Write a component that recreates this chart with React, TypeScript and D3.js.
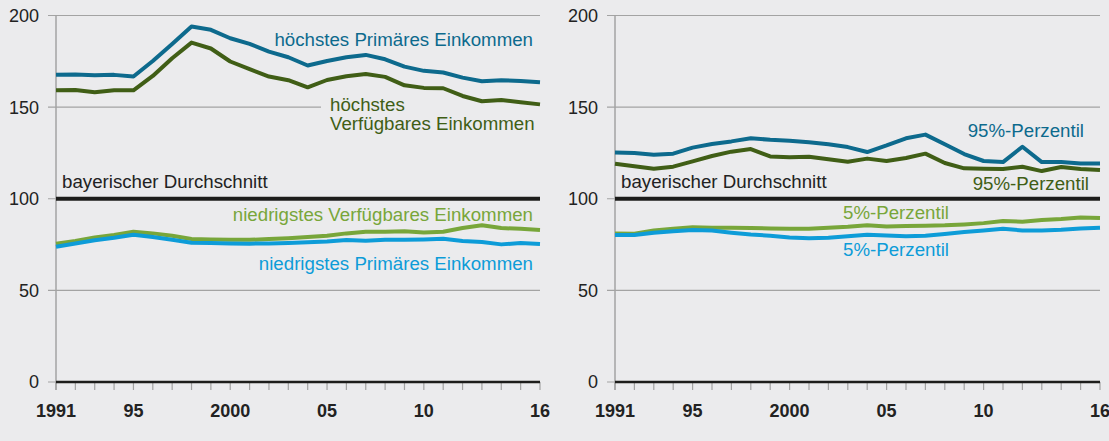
import React from 'react';
import * as d3 from 'd3';

// Jahre 1991 bis 2016
const years = d3.range(1991, 2017);
const yTicks = [0, 50, 100, 150, 200];
const xTickLabels = [
  { year: 1991, label: '1991' },
  { year: 1995, label: '95' },
  { year: 2000, label: '2000' },
  { year: 2005, label: '05' },
  { year: 2010, label: '10' },
  { year: 2016, label: '16' },
];

// linkes Diagramm: Kreise mit hoechstem / niedrigstem Einkommen
const hoechstPrimaer = [167.6, 167.8, 167.4, 167.6, 166.7, 175.2, 184.5, 194.0, 192.2, 187.6, 184.5, 180.3, 177.2, 172.7, 175.2, 177.2, 178.5, 176.1, 172.1, 169.8, 168.9, 166.1, 164.1, 164.7, 164.3, 163.6];
const hoechstVerfuegbar = [159.2, 159.4, 158.1, 159.2, 159.2, 167.0, 176.7, 185.2, 182.0, 174.9, 170.7, 166.7, 164.7, 160.8, 164.8, 166.8, 168.1, 166.5, 161.9, 160.5, 160.3, 156.1, 153.2, 153.9, 152.6, 151.5];
const niedrigVerfuegbar = [75.5, 76.9, 78.9, 80.2, 82.0, 81.1, 79.8, 78.0, 77.8, 77.6, 77.6, 78.0, 78.5, 79.1, 79.8, 81.1, 82.0, 82.0, 82.2, 81.6, 82.0, 84.0, 85.5, 84.0, 83.6, 82.9];
const niedrigPrimaer = [73.8, 75.6, 77.3, 78.7, 80.4, 79.1, 77.6, 76.0, 75.8, 75.6, 75.5, 75.6, 75.8, 76.2, 76.7, 77.5, 77.1, 77.6, 77.6, 77.8, 78.2, 76.9, 76.4, 75.1, 75.8, 75.3];

// rechtes Diagramm: Perzentile
const p95Primaer = [125.3, 125.0, 124.0, 124.6, 127.9, 129.9, 131.3, 133.0, 132.2, 131.7, 130.8, 129.7, 128.2, 125.5, 129.1, 133.0, 135.0, 129.7, 124.4, 120.6, 120.0, 128.4, 120.0, 120.0, 119.3, 119.3];
const p95Verfuegbar = [119.1, 117.7, 116.4, 117.5, 120.4, 123.3, 125.7, 127.1, 123.1, 122.6, 122.9, 121.5, 120.2, 121.9, 120.6, 122.2, 124.6, 119.5, 116.6, 116.4, 116.2, 117.5, 115.1, 117.3, 116.2, 115.7];
const p5Verfuegbar = [81.1, 80.9, 82.7, 83.6, 84.4, 84.2, 84.2, 84.0, 83.8, 83.6, 83.6, 84.2, 84.7, 85.5, 84.9, 85.1, 85.3, 85.5, 86.0, 86.7, 87.8, 87.5, 88.4, 88.9, 89.8, 89.5];
const p5Primaer = [80.2, 80.2, 81.5, 82.2, 82.9, 82.7, 81.5, 80.5, 79.8, 78.9, 78.4, 78.7, 79.6, 80.4, 80.0, 79.6, 79.8, 80.7, 81.8, 82.7, 83.6, 82.7, 82.7, 83.1, 83.8, 84.2];

const BG = '#ebebed';
const DARK_BLUE = '#0d6a8d';
const DARK_GREEN = '#405e16';
const LIGHT_GREEN = '#78a63a';
const LIGHT_BLUE = '#0d9cd8';
const FONT = '"Liberation Sans", Arial, Helvetica, sans-serif';
const LABEL_SIZE = 18.7;

type Label = { lines: string[]; x: number; y: number; anchor: string; color: string };
type PanelProps = {
  left: number;
  right: number;
  series: { values: number[]; color: string }[];
  labels: Label[];
  mask?: { x0: number; x1: number; y0: number; y1: number };
};

const top = 15.5;
const bottom = 382;

const Panel = ({ left, right, series, labels, mask }: PanelProps) => {
  const x = d3.scaleLinear().domain([1991, 2016]).range([left, right]);
  const y = d3.scaleLinear().domain([0, 200]).range([bottom, top]);
  const line = d3
    .line<number>()
    .x((_, i) => x(years[i]))
    .y((d) => y(d));

  return (
    <g>
      {/* Gitterlinien */}
      {yTicks.map((t) => (
        <g key={t}>
          <line x1={left - 8} x2={right} y1={y(t)} y2={y(t)} stroke="#a3a3a3" strokeWidth={1.2} />
          <text
            x={left - 17}
            y={y(t)}
            dy="0.36em"
            textAnchor="end"
            fontSize={18}
            fill="#222"
            fontFamily={FONT}
          >
            {t}
          </text>
        </g>
      ))}
      <line x1={left} x2={left} y1={top} y2={bottom + 8} stroke="#a3a3a3" strokeWidth={1.5} />
      {mask && (
        <rect x={mask.x0} y={mask.y0} width={mask.x1 - mask.x0} height={mask.y1 - mask.y0} fill={BG} />
      )}

      {/* x-Achse */}
      {years.map((yr) => (
        <line key={yr} x1={x(yr)} x2={x(yr)} y1={bottom} y2={bottom + 8} stroke="#a3a3a3" strokeWidth={1.2} />
      ))}
      <line x1={left} x2={right} y1={bottom} y2={bottom} stroke="#1d1d1b" strokeWidth={2.5} />
      {xTickLabels.map((d) => (
        <text
          key={d.year}
          x={x(d.year)}
          y={417}
          textAnchor="middle"
          fontSize={18}
          fontWeight="bold"
          fill="#222"
          fontFamily={FONT}
        >
          {d.label}
        </text>
      ))}

      {/* bayerischer Durchschnitt */}
      <line x1={left} x2={right} y1={y(100)} y2={y(100)} stroke="#1d1d1b" strokeWidth={4} />
      <text x={left + 6} y={188} fontSize={LABEL_SIZE} fill="#222" fontFamily={FONT}>
        bayerischer Durchschnitt
      </text>

      {series.map((s, i) => (
        <path
          key={i}
          d={line(s.values) || ''}
          fill="none"
          stroke={s.color}
          strokeWidth={4}
          strokeLinejoin="round"
        />
      ))}

      {labels.map((l, i) => (
        <text key={i} x={l.x} y={l.y} textAnchor={l.anchor} fontSize={LABEL_SIZE} fill={l.color} fontFamily={FONT}>
          {l.lines.map((t, j) => (
            <tspan key={j} x={l.x} dy={j === 0 ? 0 : 19.5}>
              {t}
            </tspan>
          ))}
        </text>
      ))}
    </g>
  );
};

const App = () => {
  return (
    <svg
      width={1109}
      height={441}
      style={{ position: 'absolute', left: 0, top: 0, display: 'block' }}
    >
      <rect width={1109} height={441} fill={BG} />
      <Panel
        left={56}
        right={540}
        mask={{ x0: 321, x1: 545, y0: 97, y1: 136 }}
        series={[
          { values: hoechstPrimaer, color: DARK_BLUE },
          { values: hoechstVerfuegbar, color: DARK_GREEN },
          { values: niedrigVerfuegbar, color: LIGHT_GREEN },
          { values: niedrigPrimaer, color: LIGHT_BLUE },
        ]}
        labels={[
          { lines: ['höchstes Primäres Einkommen'], x: 533, y: 46, anchor: 'end', color: DARK_BLUE },
          { lines: ['höchstes', 'Verfügbares Einkommen'], x: 330, y: 110.5, anchor: 'start', color: DARK_GREEN },
          { lines: ['niedrigstes Verfügbares Einkommen'], x: 533, y: 221, anchor: 'end', color: LIGHT_GREEN },
          { lines: ['niedrigstes Primäres Einkommen'], x: 533, y: 270, anchor: 'end', color: LIGHT_BLUE },
        ]}
      />
      <Panel
        left={615}
        right={1100}
        series={[
          { values: p95Primaer, color: DARK_BLUE },
          { values: p95Verfuegbar, color: DARK_GREEN },
          { values: p5Verfuegbar, color: LIGHT_GREEN },
          { values: p5Primaer, color: LIGHT_BLUE },
        ]}
        labels={[
          { lines: ['95%-Perzentil'], x: 1084, y: 137, anchor: 'end', color: DARK_BLUE },
          { lines: ['95%-Perzentil'], x: 1089, y: 190, anchor: 'end', color: DARK_GREEN },
          { lines: ['5%-Perzentil'], x: 843, y: 219, anchor: 'start', color: LIGHT_GREEN },
          { lines: ['5%-Perzentil'], x: 843, y: 256, anchor: 'start', color: LIGHT_BLUE },
        ]}
      />
    </svg>
  );
};

export default App;
